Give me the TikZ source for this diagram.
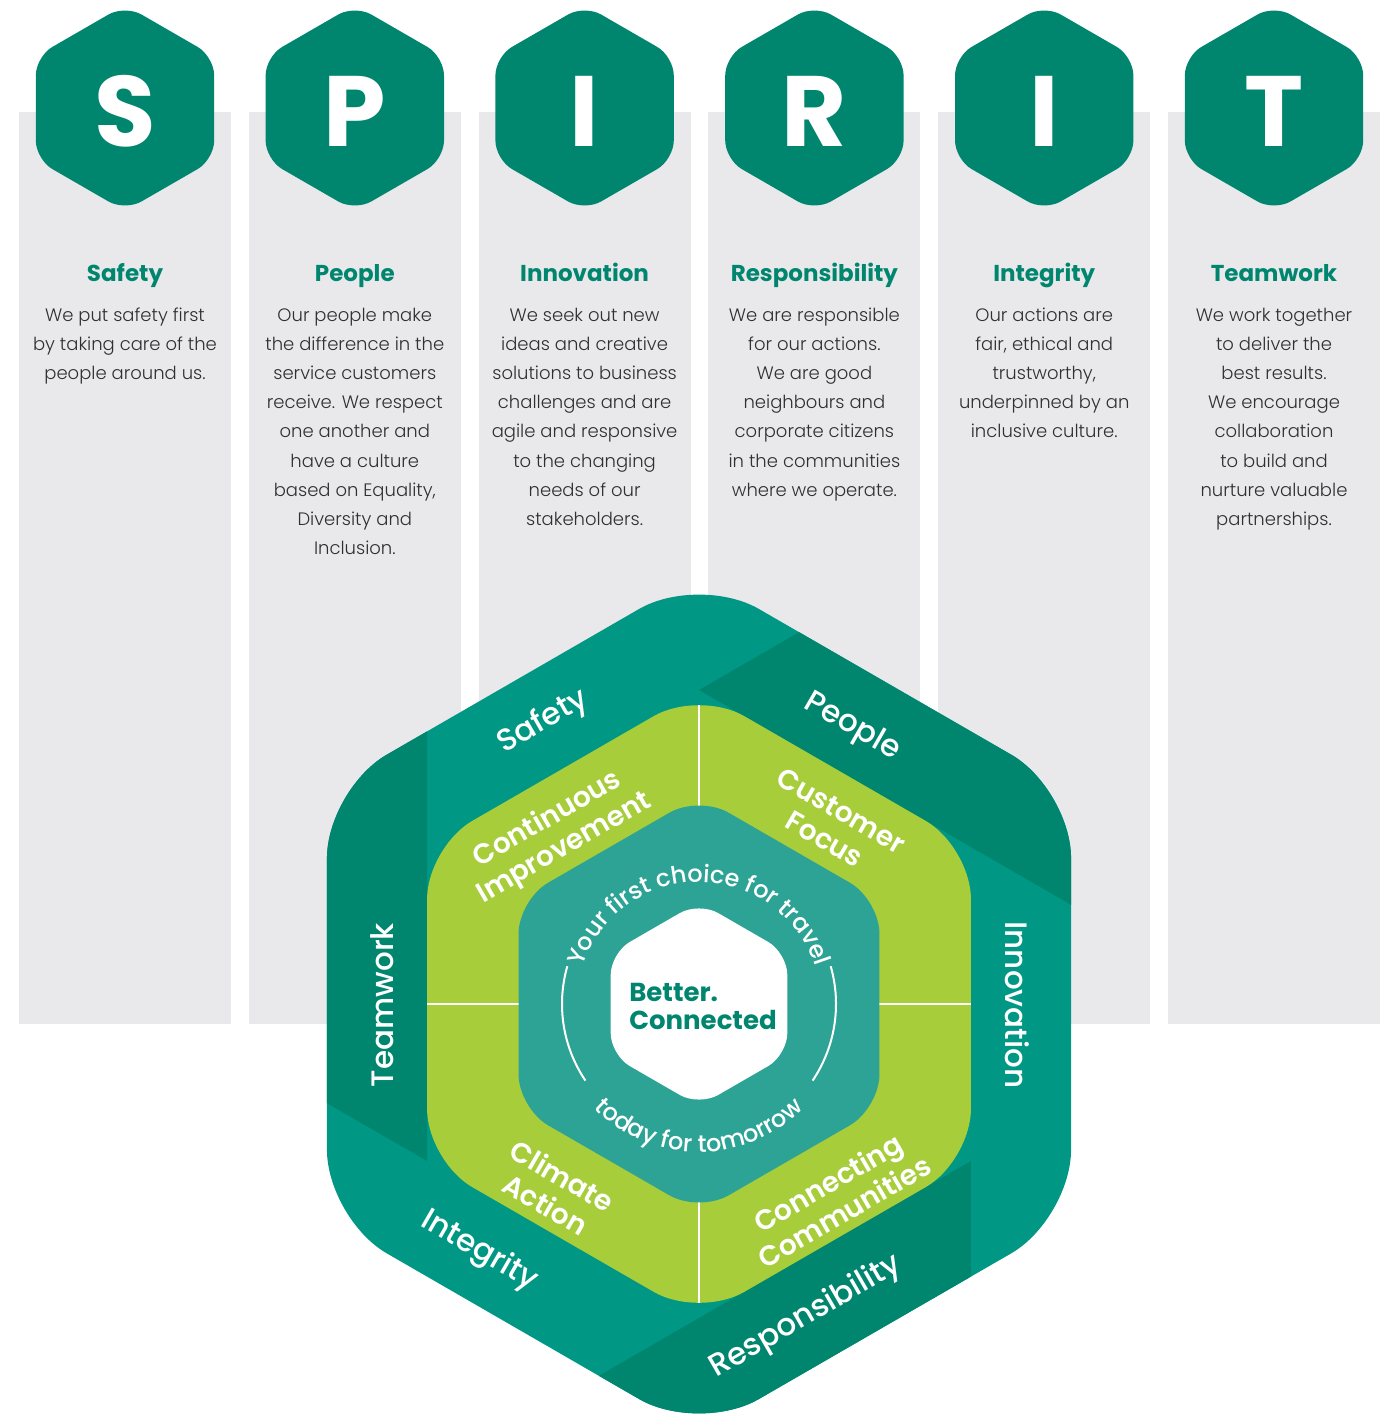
\documentclass[tikz,border=0pt]{standalone}
\usepackage{fontspec}
\setmainfont{Poppins}
\newfontfamily\lightfont{Poppins Light}
\newfontfamily\medfont{Poppins Medium}
\newfontfamily\semifont{Poppins SemiBold}
\usetikzlibrary{calc,decorations.text}

\definecolor{darkteal}{HTML}{00866F}
\definecolor{lightteal}{HTML}{009884}
\definecolor{leafgreen}{HTML}{A7CD3A}
\definecolor{innerteal}{HTML}{2CA395}
\definecolor{colgrey}{HTML}{E9E8EB}
\definecolor{bodytext}{HTML}{303030}

\tikzstyle{column} = [fill=colgrey]
\tikzstyle{badge} = [fill=darkteal, rounded corners=19pt]
\tikzstyle{letter} = [text=white, inner sep=0pt, font=\bfseries\fontsize{100}{100}\selectfont]
\tikzstyle{heading} = [text=darkteal, anchor=base, font=\bfseries\fontsize{23}{23}\selectfont]
% base anchor of a body node sits on its last line
\tikzstyle{body} = [text=bodytext, anchor=base, align=center, font=\lightfont\fontsize{18}{29.2}\selectfont]
\tikzstyle{ring} = [text=white, font=\medfont\fontsize{31}{31}\selectfont]
\tikzstyle{petal} = [text=white, align=center, font=\semifont\fontsize{28}{33}\selectfont]
\tikzstyle{core} = [text=darkteal, align=left, font=\bfseries\fontsize{26}{28}\selectfont]
\tikzstyle{divider} = [draw=white, line width=2.5pt]
\tikzstyle{arcline} = [draw=white, line width=2pt]

% pointy-top hexagon: centre, circumradius
\newcommand{\hexagon}[2]{([shift={(90:#2)}]#1) -- ++(210:#2) -- ++(270:#2) -- ++(330:#2) -- ++(30:#2) -- ++(90:#2) -- cycle}
\newcommand{\arcfont}{\medfont\fontsize{24}{24}\selectfont\color{white}}

\begin{document}
\begin{tikzpicture}[x=1pt, y=1pt]
    \useasboundingbox (0,0) rectangle (1394,-1415);

    % Grey columns and letter badges
    \foreach \ch [count=\i from 0] in {S,P,I,R,I,T} {
        \fill[column] (19+229.8*\i,-112) rectangle (231+229.8*\i,-1024);
        \coordinate (badge\i) at (125+229.8*\i,-108);
        \fill[badge] \hexagon{badge\i}{103};
        \node[letter] (letter\i) at ([yshift=-3]badge\i) {\ch};
    }

    % Place column texts
    \node[heading] (safety) at (125,-281) {Safety};
    \node[body] (safetytext) at (125,-379.4) {We put safety first\\by taking care of the\\people around us.};
    \node[heading] (people) at (354.8,-281) {People};
    \node[body] (peopletext) at (354.8,-554.6) {Our people make\\the difference in the\\service customers\\receive. We respect\\one another and\\have a culture\\based on Equality,\\Diversity and\\Inclusion.};
    \node[heading] (innovation) at (584.6,-281) {Innovation};
    \node[body] (innovationtext) at (584.6,-525.4) {We seek out new\\ideas and creative\\solutions to business\\challenges and are\\agile and responsive\\to the changing\\needs of our\\stakeholders.};
    \node[heading] (responsibility) at (814.4,-281) {Responsibility};
    \node[body] (responsibilitytext) at (814.4,-496.2) {We are responsible\\for our actions.\\We are good\\neighbours and\\corporate citizens\\in the communities\\where we operate.};
    \node[heading] (integrity) at (1044.2,-281) {Integrity};
    \node[body] (integritytext) at (1044.2,-437.8) {Our actions are\\fair, ethical and\\trustworthy,\\underpinned by an\\inclusive culture.};
    \node[heading] (teamwork) at (1274,-281) {Teamwork};
    \node[body] (teamworktext) at (1274,-525.4) {We work together\\to deliver the\\best results.\\We encourage\\collaboration\\to build and\\nurture valuable\\partnerships.};

    % Big hexagon: outer ring in six bands
    \coordinate (ctr) at (699,-1004);
    \foreach \a in {30,90,...,330}
        \coordinate (g\a) at ([shift={(\a:314)}]ctr);
    \begin{scope}
        \clip[rounded corners=69pt] \hexagon{ctr}{429.6};
        \fill[lightteal] (200,-500) rectangle (1200,-1415);
        \fill[darkteal] (g90) -- ($(g90)!-2!(g150)$) -- ($(g30)!-2!(g90)$) -- (g30) -- cycle;
        \fill[darkteal] (g330) -- ($(g330)!-2!(g30)$) -- ($(g270)!-2!(g330)$) -- (g270) -- cycle;
        \fill[darkteal] (g210) -- ($(g210)!-2!(g270)$) -- ($(g150)!-2!(g210)$) -- (g150) -- cycle;
    \end{scope}

    % Green values hexagon
    \begin{scope}
        \clip[rounded corners=52pt] \hexagon{ctr}{314};
        \fill[leafgreen] (200,-500) rectangle (1200,-1415);
        \draw[divider] ([yshift=320]ctr) -- ([yshift=-320]ctr);
        \draw[divider] ([xshift=-320]ctr) -- ([xshift=320]ctr);
    \end{scope}

    % Inner hexagons
    \fill[innerteal, rounded corners=34pt] \hexagon{ctr}{208.4};
    \fill[white, rounded corners=22pt] \hexagon{ctr}{102};
    \draw[arcline] ([shift={(164:137)}]ctr) arc[start angle=164, end angle=214, radius=137];
    \draw[arcline] ([shift={(-34:137)}]ctr) arc[start angle=-34, end angle=16, radius=137];
    \path[decorate, decoration={text along path, text align=center,
        text={|\arcfont|Your first choice for travel}}]
        ([shift={(175:122)}]ctr) arc[start angle=175, end angle=5, radius=122];
    \path[decorate, decoration={text along path, text align=center,
        text={|\arcfont|today for tomorrow}}]
        ([shift={(200:148)}]ctr) arc[start angle=200, end angle=340, radius=148];
    \node[core] (better) at (703,-1006) {Better.\\Connected};

    % Ring labels
    \node[ring, rotate=30] (ringsafety) at (543,-722) {Safety};
    \node[ring, rotate=-30] (ringpeople) at (852,-727) {People};
    \node[ring, rotate=-90] (ringinnovation) at (1017,-1005) {Innovation};
    \node[ring, rotate=30] (ringresponsibility) at (806,-1317) {Responsibility};
    \node[ring, rotate=-30] (ringintegrity) at (479,-1251) {Integrity};
    \node[ring, rotate=90] (ringteamwork) at (382,-1005) {Teamwork};

    % Green labels
    \node[petal, rotate=30] (improvement) at (556,-834) {Continuous\\Improvement};
    \node[petal, rotate=-30] (customer) at (833,-825) {Customer\\Focus};
    \node[petal, rotate=-30] (climate) at (554,-1190) {Climate\\Action};
    \node[petal, rotate=30] (communities) at (836,-1197) {Connecting\\Communities};
\end{tikzpicture}
\end{document}
